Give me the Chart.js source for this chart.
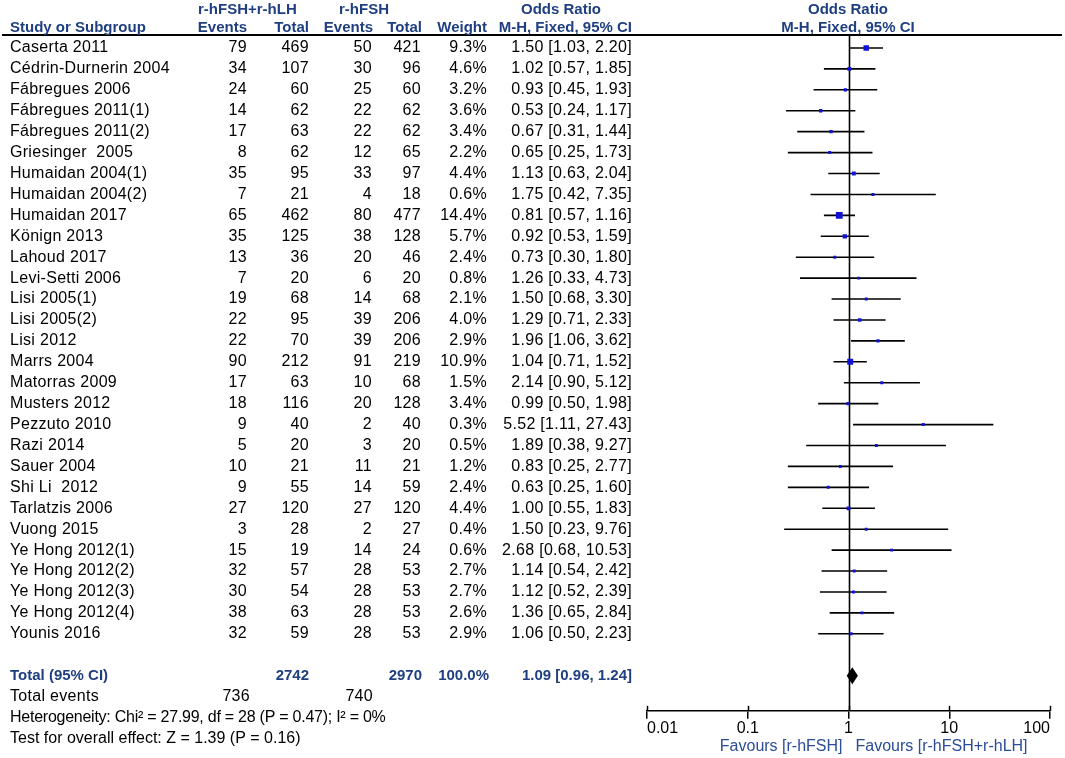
<!DOCTYPE html>
<html>
<head>
<meta charset="utf-8">
<script src="https://cdn.jsdelivr.net/npm/chart.js@4"></script>
<style>
html,body{margin:0;padding:0;background:#fff;}
canvas{display:block;}
</style>
</head>
<body>
<canvas id="c" width="1065" height="758"></canvas>
<script>
const studies = ["Caserta 2011","Cédrin-Durnerin 2004","Fábregues 2006","Fábregues 2011(1)","Fábregues 2011(2)","Griesinger  2005","Humaidan 2004(1)","Humaidan 2004(2)","Humaidan 2017","Könign 2013","Lahoud 2017","Levi-Setti 2006","Lisi 2005(1)","Lisi 2005(2)","Lisi 2012","Marrs 2004","Matorras 2009","Musters 2012","Pezzuto 2010","Razi 2014","Sauer 2004","Shi Li  2012","Tarlatzis 2006","Vuong 2015","Ye Hong 2012(1)","Ye Hong 2012(2)","Ye Hong 2012(3)","Ye Hong 2012(4)","Younis 2016"];
const eventsExp = [79,34,24,14,17,8,35,7,65,35,13,7,19,22,22,90,17,18,9,5,10,9,27,3,15,32,30,38,32];
const totalExp  = [469,107,60,62,63,62,95,21,462,125,36,20,68,95,70,212,63,116,40,20,21,55,120,28,19,57,54,63,59];
const eventsCtl = [50,30,25,22,22,12,33,4,80,38,20,6,14,39,39,91,10,20,2,3,11,14,27,2,14,28,28,28,28];
const totalCtl  = [421,96,60,62,62,65,97,18,477,128,46,20,68,206,206,219,68,128,40,20,21,59,120,27,24,53,53,53,53];
const weights   = [9.3,4.6,3.2,3.6,3.4,2.2,4.4,0.6,14.4,5.7,2.4,0.8,2.1,4.0,2.9,10.9,1.5,3.4,0.3,0.5,1.2,2.4,4.4,0.4,0.6,2.7,2.7,2.6,2.9];
const oddsRatio = [1.50,1.02,0.93,0.53,0.67,0.65,1.13,1.75,0.81,0.92,0.73,1.26,1.50,1.29,1.96,1.04,2.14,0.99,5.52,1.89,0.83,0.63,1.00,1.50,2.68,1.14,1.12,1.36,1.06];
const ciLow     = [1.03,0.57,0.45,0.24,0.31,0.25,0.63,0.42,0.57,0.53,0.30,0.33,0.68,0.71,1.06,0.71,0.90,0.50,1.11,0.38,0.25,0.25,0.55,0.23,0.68,0.54,0.52,0.65,0.50];
const ciHigh    = [2.20,1.85,1.93,1.17,1.44,1.73,2.04,7.35,1.16,1.59,1.80,4.73,3.30,2.33,3.62,1.52,5.12,1.98,27.43,9.27,2.77,1.60,1.83,9.76,10.53,2.42,2.39,2.84,2.23];

const totalOR = [1.09, 0.96, 1.24];      // estimate, low, high
const totalN = [2742, 2970];
const totalWeight = "100.0%";
const totalEvents = [736, 740];
const heterogeneityText = "Heterogeneity: Chi\u00B2 = 27.99, df = 28 (P = 0.47); I\u00B2 = 0%";
const overallText = "Test for overall effect: Z = 1.39 (P = 0.16)";
const groupLabels = ["r-hFSH+r-hLH", "r-hFSH"];
const favourLabels = ["Favours [r-hFSH]", "Favours [r-hFSH+r-hLH]"];
const tickValues = [0.01, 0.1, 1, 10, 100];
const tickLabels = ["0.01", "0.1", "1", "10", "100"];

const TOTAL_ROW = studies.length + 1;
const FONT = "'Liberation Sans', Arial, sans-serif";
const HEAD = "#1f3f80";

const ciData = [];
studies.forEach((s, i) => {
  ciData.push({x: ciLow[i], y: i});
  ciData.push({x: ciHigh[i], y: i});
  ciData.push({x: NaN, y: NaN});
});
const pointData = studies.map((s, i) => ({x: oddsRatio[i], y: i}));

function fmt2(v){ return v.toFixed(2); }

const tablePlugin = {
  id: 'table',
  beforeDraw(chart) {
    const ctx = chart.ctx;
    ctx.save();
    ctx.fillStyle = '#fff';
    ctx.fillRect(0, 0, chart.width, chart.height);
    ctx.restore();
  },
  beforeDatasetsDraw(chart) {
    const ctx = chart.ctx, x = chart.scales.x, a = chart.chartArea;
    const px = Math.round(x.getPixelForValue(1)) + 0.5;
    ctx.save();
    ctx.strokeStyle = '#000';
    ctx.lineWidth = 1.6;
    ctx.beginPath();
    ctx.moveTo(px, a.top);
    ctx.lineTo(px, a.bottom);
    ctx.stroke();
    ctx.restore();
  },
  afterDatasetsDraw(chart) {
    const ctx = chart.ctx, x = chart.scales.x, y = chart.scales.y;
    const cy = y.getPixelForValue(TOTAL_ROW);
    ctx.save();
    ctx.fillStyle = '#000';
    ctx.beginPath();
    ctx.moveTo(x.getPixelForValue(totalOR[1]), cy);
    ctx.lineTo(x.getPixelForValue(totalOR[0]), cy - 8.5);
    ctx.lineTo(x.getPixelForValue(totalOR[2]), cy);
    ctx.lineTo(x.getPixelForValue(totalOR[0]), cy + 8.5);
    ctx.closePath();
    ctx.fill();
    ctx.restore();
  },
  afterDraw(chart) {
    const ctx = chart.ctx, y = chart.scales.y, xs = chart.scales.x, a = chart.chartArea;
    ctx.save();
    // header rule
    ctx.fillStyle = '#000';
    ctx.fillRect(2, 34, 1060, 2);
    // upper halves of axis tick marks
    ctx.strokeStyle = '#000';
    ctx.lineWidth = 1.5;
    tickValues.forEach(v => {
      const px = Math.round(xs.getPixelForValue(v)) + 0.5;
      ctx.beginPath();
      ctx.moveTo(px, a.bottom - 5);
      ctx.lineTo(px, a.bottom);
      ctx.stroke();
    });

    const txt = (s, px, py, align, font, color, ls) => {
      ctx.font = font;
      ctx.fillStyle = color;
      ctx.textAlign = align;
      ctx.textBaseline = 'middle';
      ctx.letterSpacing = ls || '0px';
      ctx.fillText(s, px, py);
    };
    const bold = "bold 15px " + FONT;
    const reg = "16px " + FONT;
    // headers
    txt(groupLabels[0], 198, 10, 'left', bold, HEAD);
    txt(groupLabels[1], 364, 10, 'center', bold, HEAD);
    txt("Odds Ratio", 561, 10, 'center', bold, HEAD);
    txt("Odds Ratio", 848, 10, 'center', bold, HEAD);
    txt("Study or Subgroup", 10, 28, 'left', bold, HEAD);
    txt("Events", 247, 28, 'right', bold, HEAD);
    txt("Total", 309, 28, 'right', bold, HEAD);
    txt("Events", 373, 28, 'right', bold, HEAD);
    txt("Total", 422, 28, 'right', bold, HEAD);
    txt("Weight", 487, 28, 'right', bold, HEAD);
    txt("M-H, Fixed, 95% CI", 632, 28, 'right', bold, HEAD);
    txt("M-H, Fixed, 95% CI", 848, 28, 'center', bold, HEAD);

    studies.forEach((s, i) => {
      const py = y.getPixelForValue(i);
      txt(s, 10, py, 'left', reg, '#000', '0.3px');
      txt(String(eventsExp[i]), 247, py, 'right', reg, '#000', '0.3px');
      txt(String(totalExp[i]), 309, py, 'right', reg, '#000', '0.3px');
      txt(String(eventsCtl[i]), 372, py, 'right', reg, '#000', '0.3px');
      txt(String(totalCtl[i]), 421, py, 'right', reg, '#000', '0.3px');
      txt(weights[i].toFixed(1) + "%", 487, py, 'right', reg, '#000', '0.3px');
      txt(fmt2(oddsRatio[i]) + " [" + fmt2(ciLow[i]) + ", " + fmt2(ciHigh[i]) + "]", 632, py, 'right', reg, '#000', '0.3px');
    });

    const ty = y.getPixelForValue(TOTAL_ROW);
    txt("Total (95% CI)", 10, ty, 'left', bold, HEAD);
    txt(String(totalN[0]), 309, ty, 'right', bold, HEAD);
    txt(String(totalN[1]), 422, ty, 'right', bold, HEAD);
    txt(totalWeight, 489, ty, 'right', bold, HEAD);
    txt(fmt2(totalOR[0]) + " [" + fmt2(totalOR[1]) + ", " + fmt2(totalOR[2]) + "]", 632, ty, 'right', bold, HEAD);

    const ey = y.getPixelForValue(TOTAL_ROW + 1);
    txt("Total events", 10, ey, 'left', reg, '#000', '0.3px');
    txt(String(totalEvents[0]), 250, ey, 'right', reg, '#000', '0.3px');
    txt(String(totalEvents[1]), 373, ey, 'right', reg, '#000', '0.3px');
    txt(heterogeneityText, 10, y.getPixelForValue(TOTAL_ROW + 2), 'left', reg, '#000', '-0.25px');
    txt(overallText, 10, y.getPixelForValue(TOTAL_ROW + 3), 'left', reg, '#000', '0px');

    const x1 = xs.getPixelForValue(1);
    txt(favourLabels[0], x1 - 6, 747, 'right', "16px " + FONT, '#2b4c96', '0px');
    txt(favourLabels[1], x1 + 7, 747, 'left', "16px " + FONT, '#2b4c96', '0px');
    ctx.restore();
  }
};

new Chart(document.getElementById('c'), {
  type: 'scatter',
  data: {
    datasets: [
      {
        label: 'CI',
        data: ciData,
        showLine: true,
        spanGaps: false,
        borderColor: '#000',
        borderWidth: 1.6,
        pointRadius: 0,
        pointHoverRadius: 0,
        order: 1
      },
      {
        label: 'Odds ratio',
        data: pointData,
        pointStyle: 'rect',
        pointRadius: (c) => Math.max(2.1, 1.8 * Math.sqrt(weights[c.dataIndex] || 0) / Math.SQRT2),
        backgroundColor: '#1212d6',
        borderColor: '#1212d6',
        borderWidth: 0,
        order: 0
      }
    ]
  },
  plugins: [tablePlugin],
  options: {
    responsive: false,
    animation: false,
    devicePixelRatio: 1,
    layout: { padding: { left: 647, right: 15, top: 35, bottom: 20 } },
    plugins: { legend: { display: false }, tooltip: { enabled: false } },
    scales: {
      x: {
        type: 'logarithmic',
        min: 0.01,
        max: 100,
        position: 'bottom',
        afterBuildTicks: (s) => { s.ticks = tickValues.map(v => ({ value: v })); },
        ticks: {
          callback: (v, i) => tickLabels[i],
          font: { family: FONT, size: 16 },
          color: '#000',
          align: 'inner',
          padding: 0,
          maxRotation: 0,
          autoSkip: false
        },
        grid: { drawOnChartArea: false, drawTicks: true, tickLength: 8, color: '#000', lineWidth: 1.5 },
        border: { display: true, color: '#000', width: 1.5 }
      },
      y: {
        type: 'linear',
        display: false,
        reverse: true,
        min: -0.62,
        max: 31.68
      }
    }
  }
});
</script>
</body>
</html>
